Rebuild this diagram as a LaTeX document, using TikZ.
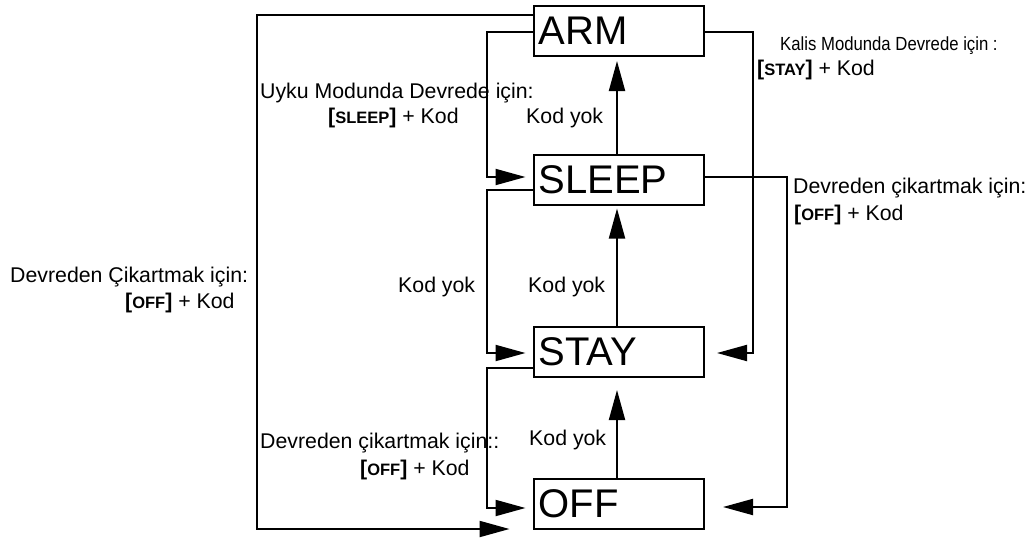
\documentclass[tikz,border=0pt]{standalone}
\usepackage{fontspec}
\usepackage{graphicx}
\setmainfont{Liberation Sans}
\usetikzlibrary{arrows.meta,calc}
\newcommand{\keyname}[1]{\textbf{[}{\fontsize{16.5}{16.5}\selectfont\bfseries #1}\textbf{]}}
\tikzset{
  state/.style={draw, line width=2pt, rectangle, minimum height=50pt, text width=160.5pt,
    inner xsep=5pt, inner ysep=0pt, align=left, font=\fontsize{40}{48}\selectfont},
  lab/.style={inner sep=0pt, anchor=base west, font=\fontsize{21.3}{25}\selectfont},
  arr/.style={line width=2pt, -{Triangle[length=30pt,width=16pt]}},
}
\begin{document}
\begin{tikzpicture}[x=1pt,y=-1pt]
\useasboundingbox (0,0) rectangle (1032,538);
% states
\node[state] (arm)   at (618.75,31)    {ARM};
\node[state] (sleep) at (618.75,179.5) {SLEEP};
\node[state] (stay)  at (618.75,352)   {STAY};
\node[state] (off)   at (618.75,504)   {OFF};
% vertical arrows
\draw[arr, shorten >=4pt]  (sleep.north -| 617,0) -- (arm.south -| 617,0);
\draw[arr, shorten >=3pt]  (stay.north -| 617,0)  -- (sleep.south -| 617,0);
\draw[arr, shorten >=12pt] (off.north -| 617,0)   -- (stay.south -| 617,0);
% left loops
\draw[arr, shorten >=23pt] (arm.west |- 0,15)   -| (257,529) -- (off.west |- 0,529);
\draw[arr, shorten >=7pt]  (arm.west |- 0,32)   -| (487,177) -- (sleep.west |- 0,177);
\draw[arr, shorten >=7pt]  (sleep.west |- 0,190) -| (487,353) -- (stay.west |- 0,353);
\draw[arr, shorten >=7pt]  (stay.west |- 0,368) -| (487,508) -- (off.west |- 0,508);
% right loops
\draw[arr, shorten >=12pt] (arm.east |- 0,32)   -| (753,353) -- (stay.east |- 0,353);
\draw[arr, shorten >=18pt] (sleep.east |- 0,177) -| (787,507) -- (off.east |- 0,507);
% labels
\node[lab] (la1) at (10,282)  {Devreden Çikartmak için:};
\node[lab] (la2) at (125,308) {\keyname{OFF} + Kod};
\node[lab] (lb1) at (260,98)  {Uyku Modunda Devrede için:};
\node[lab] (lb2) at (328,123) {\keyname{SLEEP} + Kod};
\node[lab] (lc)  at (526,123) {Kod yok};
\node[lab] (ld)  at (398,292) {Kod yok};
\node[lab] (le)  at (528,292) {Kod yok};
\node[lab] (lf1) at (260,448) {Devreden çikartmak için::};
\node[lab] (lf2) at (360,475) {\keyname{OFF} + Kod};
\node[lab] (lg)  at (529,445) {Kod yok};
\node[lab] (lh1) at (780,50)  {\scalebox{0.88}[1]{\fontsize{19}{22}\selectfont Kalis Modunda Devrede için :}};
\node[lab] (lh2) at (757,75)  {\keyname{STAY} + Kod};
\node[lab] (li1) at (793,193) {Devreden çikartmak için:};
\node[lab] (li2) at (794,220) {\keyname{OFF} + Kod};
\end{tikzpicture}
\end{document}
